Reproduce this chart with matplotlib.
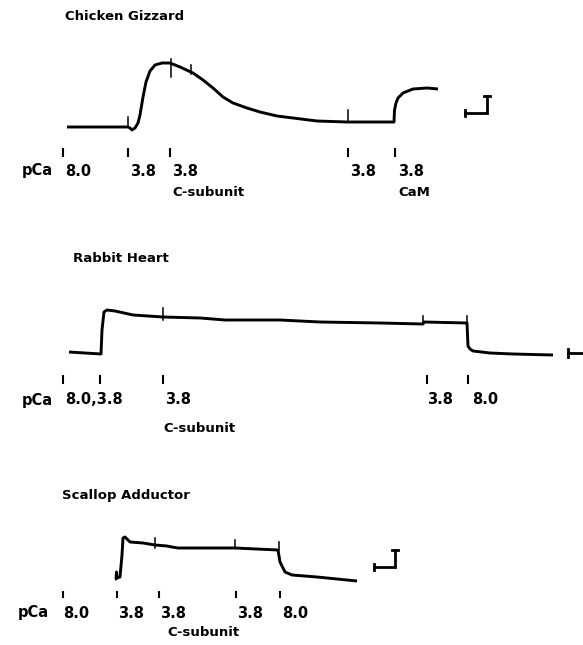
import matplotlib
matplotlib.use("Agg")
import matplotlib.pyplot as plt
import numpy as np

# ---------------- data (x = time axis, y = tension, page units) ----------------
titles = ["Chicken Gizzard", "Rabbit Heart", "Scallop Adductor"]
title_pos = [(65, 17), (73, 258), (62, 495)]

# Chicken gizzard trace
cg_x = [67, 100, 128, 130, 132, 135, 138, 140, 143, 146, 150, 155, 162, 170, 180, 193, 203, 213, 223,
        233, 247, 260, 277, 293, 317, 347, 370, 394, 394.5, 396, 398, 403, 413, 427, 438]
cg_y = [127, 127, 127, 128, 130, 128, 123, 115, 97, 82, 71, 65, 63, 63, 67, 73, 80, 88, 97,
        103, 108, 112, 116, 118, 121, 122, 122, 122, 110, 103, 98, 93, 89, 88, 89]
cg_art_x = [128, 171, 191, 348]
cg_art_y0 = [127, 77, 74, 122]
cg_art_y1 = [117, 59, 65, 110]

# Rabbit heart trace
rh_x = [69, 85, 101, 102, 104, 107, 115, 133, 163, 200, 225, 280, 320, 380, 423, 424, 467, 468, 470,
        473, 490, 513, 553]
rh_y = [352, 353, 354, 330, 312, 310, 311, 315, 317, 318, 320, 320, 322, 323, 324, 322, 323, 346, 349,
        351, 353, 354, 355]
rh_art_x = [163, 423, 467]
rh_art_y0 = [320, 324, 323]
rh_art_y1 = [308, 316, 316]

# Scallop adductor trace
sa_x = [115, 116, 116.5, 117, 120, 122, 123, 125, 130, 143, 155, 167, 172, 178, 200, 235, 278, 279,
        280, 285, 292, 317, 357]
sa_y = [579, 579, 572, 578, 577, 555, 538, 537, 542, 543, 545, 546, 547, 548, 548, 548, 550, 556,
        562, 572, 575, 577, 581]
sa_art_x = [155, 235, 279]
sa_art_y0 = [548, 548, 550]
sa_art_y1 = [538, 540, 542]

# stimulus markers and labels
cg_tick_x = [63, 128, 170, 348, 395]
cg_labels = ["8.0", "3.8", "3.8", "3.8", "3.8"]
cg_label_x = [65, 130, 172, 350, 398]
cg_sub = [("C-subunit", 172), ("CaM", 398)]

rh_tick_x = [63, 100, 163, 427, 468]
rh_labels = ["8.0,3.8", "3.8", "3.8", "8.0"]
rh_label_x = [65, 165, 427, 472]
rh_sub = [("C-subunit", 163)]

sa_tick_x = [63, 117, 159, 236, 280]
sa_labels = ["8.0", "3.8", "3.8", "3.8", "8.0"]
sa_label_x = [63, 118, 160, 237, 282]
sa_sub = [("C-subunit", 167)]

# ---------------- figure ----------------
W, H = 583, 645
fig = plt.figure(figsize=(W / 100, H / 100), dpi=100)
ax = fig.add_axes([0, 0, 1, 1])
ax.set_xlim(0, W)
ax.set_ylim(H, 0)
ax.axis("off")

LW = 2.1
fs_title = 9.5
fs_lab = 10.5
font = dict(family="DejaVu Sans", fontweight="bold", color="black")

for t, (x, y) in zip(titles, title_pos):
    ax.text(x, y, t, fontsize=fs_title, ha="left", va="center", **font)

def trace(xs, ys, ax_, ay0, ay1):
    ax.plot(xs, ys, color="black", lw=LW, solid_capstyle="butt", solid_joinstyle="round")
    for x, a, b in zip(ax_, ay0, ay1):
        ax.plot([x, x], [a, b], color="black", lw=1.1)

trace(cg_x, cg_y, cg_art_x, cg_art_y0, cg_art_y1)
trace(rh_x, rh_y, rh_art_x, rh_art_y0, rh_art_y1)
trace(sa_x, sa_y, sa_art_x, sa_art_y0, sa_art_y1)

def markers(xs, y0, y1):
    for x in xs:
        ax.plot([x, x], [y0, y1], color="black", lw=1.5)

markers(cg_tick_x, 149, 156)
markers(rh_tick_x, 376, 383)
markers(sa_tick_x, 592, 597)

def labels(xs, labs, y, pca_x, subs, suby):
    ax.text(pca_x, y, "pCa", fontsize=fs_lab, ha="left", va="center", **font)
    for x, l in zip(xs, labs):
        ax.text(x, y, l, fontsize=fs_lab, ha="left", va="center", **font)
    for s, x in subs:
        ax.text(x, suby, s, fontsize=fs_title, ha="left", va="center", **font)

labels(cg_label_x, cg_labels, 171, 22, cg_sub, 193)
labels(rh_label_x, rh_labels, 400, 22, rh_sub, 428)
labels(sa_label_x, sa_labels, 613, 18, sa_sub, 633)

# calibration bars
def calib(x0, x1, y, ytop):
    ax.plot([x0, x1, x1], [y, y, ytop], color="black", lw=2.0, solid_joinstyle="miter")
    ax.plot([x0, x0], [y - 3, y + 3], color="black", lw=2.0)
    ax.plot([x1 - 3, x1 + 3], [ytop, ytop], color="black", lw=2.0)

calib(465, 487, 113, 96)
calib(374, 395, 567, 550)
ax.plot([568, 583], [353, 353], color="black", lw=2.0)
ax.plot([568, 568], [349, 357], color="black", lw=2.0)

fig.savefig("out.png", dpi=100, facecolor="white")
